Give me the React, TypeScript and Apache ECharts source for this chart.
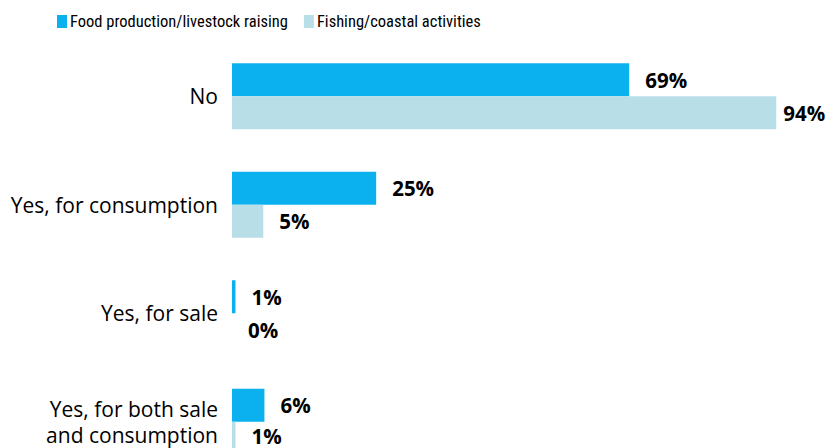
import React, { useEffect, useRef } from "react";
import * as echarts from "echarts";

const categories = ["No", "Yes, for consumption", "Yes, for sale", "Yes, for both sale\nand consumption"];
const seriesNames = ["Food production/livestock raising", "Fishing/coastal activities"];
const foodValues = [68.6, 24.9, 0.6, 5.6];
const fishingValues = [94, 5.4, 0, 0.6];
const colors = ["#0BB0EF", "#B8DEE8"];

const FONT = "'Open Sans', sans-serif";
const LEGEND_FONT = "'Roboto Condensed', 'Open Sans', sans-serif";

export default function App() {
  const ref = useRef<HTMLDivElement>(null);
  useEffect(() => {
    document.body.style.margin = "0";
    const chart = echarts.init(ref.current!, null, { renderer: "svg" });
    const labelCfg = {
      show: true,
      position: "right",
      distance: 16,
      fontFamily: FONT,
      fontWeight: "bold",
      fontSize: 20.5,
      lineHeight: 20,
      color: "#000",
      formatter: (p: any) => Math.round(p.value) + "%",
    };
    chart.setOption({
      animation: false,
      textStyle: { fontFamily: FONT },
      legend: {
        top: 8,
        left: 52,
        itemWidth: 10,
        itemHeight: 13,
        itemGap: 16,
        icon: "rect",
        textStyle: { fontFamily: LEGEND_FONT, fontSize: 16.5, color: "#000", padding: [0, 0, 0, -2] },
        data: seriesNames,
      },
      grid: { left: 232, right: 16, top: 42, height: 434, containLabel: false, outerBoundsMode: "none" },
      xAxis: { type: "value", min: 0, max: 100, show: false },
      yAxis: {
        type: "category",
        inverse: true,
        data: categories,
        axisLine: { show: false },
        axisTick: { show: false },
        axisLabel: {
          margin: 14,
          fontFamily: FONT,
          fontSize: 21,
          color: "#000",
          lineHeight: 25.5,
          align: "right",
        },
      },
      series: [
        {
          name: seriesNames[0],
          type: "bar",
          data: foodValues,
          barWidth: 33,
          barGap: "0%",
          itemStyle: { color: colors[0] },
          label: labelCfg,
        },
        {
          name: seriesNames[1],
          type: "bar",
          data: fishingValues.map((v, i) =>
            i === 0
              ? { value: v, label: { distance: 7 } }
              : i === fishingValues.length - 1
              ? { value: v, label: { offset: [0, -2] } }
              : v
          ),
          barWidth: 33,
          itemStyle: { color: colors[1] },
          label: labelCfg,
        },
      ],
    });
    return () => chart.dispose();
  }, []);
  return <div ref={ref} style={{ width: 827, height: 448 }} />;
}
